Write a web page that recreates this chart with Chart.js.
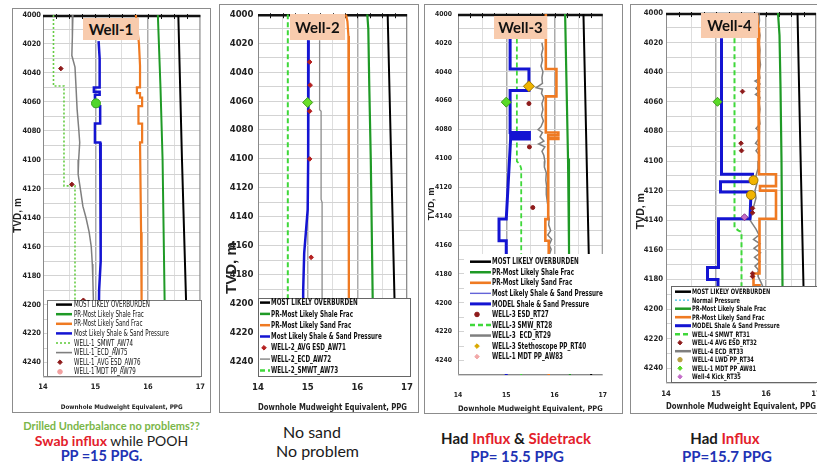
<!DOCTYPE html>
<html>
<head>
<meta charset="utf-8">
<script src="https://cdn.jsdelivr.net/npm/chart.js@4.4.1/dist/chart.umd.min.js"></script>
<style>
  html, body { margin: 0; padding: 0; background: #fff; width: 817px; height: 466px; overflow: hidden; position: relative; }
  .frame { position: absolute; border: 1px solid #8c8c8c; background: #fff; box-sizing: border-box; }
  canvas { position: absolute; z-index: 1; }
  .well { position: absolute; z-index: 2; background: #f8cbad; color: #111; text-align: center;
          font: bold 15px Lato, sans-serif; }
  .cap { position: absolute; z-index: 2; font-family: Lato, sans-serif; white-space: nowrap; line-height: 1; color: #1a1a1a; }
  .red { color: #e3202a; font-weight: bold; }
  .blue { color: #2132b4; font-weight: bold; }
</style>
</head>
<body>

<div class="well" style="left:83px;top:18px;width:56px;height:22px;line-height:22px;">Well-1</div>
<div class="well" style="left:290px;top:14px;width:55px;height:26px;line-height:26px;">Well-2</div>
<div class="well" style="left:494px;top:16px;width:53px;height:23px;line-height:23px;">Well-3</div>
<div class="well" style="left:701px;top:13px;width:57px;height:25px;line-height:25px;">Well-4</div>

<div class="cap" style="left:10px;top:420px;width:203px;text-align:center;font-size:11px;font-weight:bold;color:#7ab648;">Drilled Underbalance no problems??</div>
<div class="cap" style="left:10px;top:434px;width:203px;text-align:center;font-size:14px;"><span class="red">Swab influx</span> while POOH</div>
<div class="cap" style="left:10px;top:449px;width:183px;text-align:center;font-size:14.5px;"><span class="blue">PP =15 PPG.</span></div>

<div class="cap" style="left:262px;top:424px;width:100px;text-align:center;font-size:16px;">No sand</div>
<div class="cap" style="left:276px;top:443px;font-size:16px;">No problem</div>

<div class="cap" style="left:416px;top:431px;width:200px;text-align:center;font-size:15px;font-weight:bold;">Had <span class="red">Influx</span> &amp; <span class="red">Sidetrack</span></div>
<div class="cap" style="left:417px;top:449px;width:200px;text-align:center;font-size:15px;"><span class="blue">PP= 15.5 PPG</span></div>

<div class="cap" style="left:625px;top:431px;width:200px;text-align:center;font-size:15px;font-weight:bold;">Had <span class="red">Influx</span></div>
<div class="cap" style="left:627px;top:449px;width:200px;text-align:center;font-size:15px;"><span class="blue">PP=15.7 PPG</span></div>

<script>
// ---- data: [ppg, TVD m] ----
const ppgTicks = [14, 15, 16, 17];
const tvdRange = [4000, 4250];

// Well-1
const w1Overburden = [[16.58, 4000], [16.65, 4100], [16.73, 4200], [16.76, 4250]];
const w1ShaleFrac = [[16.19, 4000], [16.21, 4020], [16.24, 4050], [16.28, 4100], [16.30, 4150], [16.32, 4200], [16.33, 4250]];
const w1SandFrac = [[15.77, 4000], [15.80, 4010], [15.83, 4020], [15.85, 4035], [15.85, 4050], [15.79, 4050], [15.79, 4054],
  [15.85, 4054], [15.85, 4057], [15.89, 4057], [15.89, 4063], [15.82, 4063], [15.82, 4075], [15.89, 4075], [15.89, 4088],
  [15.85, 4088], [15.87, 4150], [15.88, 4200], [15.89, 4250]];
const w1Pressure = [[15.06, 4018], [15.08, 4030], [15.08, 4050], [14.97, 4050], [14.97, 4053], [15.08, 4053], [15.08, 4055],
  [14.99, 4055], [14.99, 4063], [15.09, 4063], [15.09, 4075], [14.99, 4075], [14.99, 4088], [15.09, 4088], [15.10, 4140],
  [15.10, 4170], [15.07, 4190], [15.05, 4250]];
const w1Smwt = [[14.20, 4000], [14.20, 4049], [14.40, 4049], [14.40, 4118], [14.61, 4118], [14.61, 4250]];
const w1Ecd = [[14.57, 4000], [14.56, 4015], [14.55, 4028], [14.61, 4036], [14.63, 4050], [14.65, 4065], [14.68, 4078],
  [14.70, 4088], [14.68, 4100], [14.67, 4110], [14.72, 4122], [14.76, 4132], [14.82, 4140], [14.88, 4150], [14.92, 4160],
  [14.94, 4172], [14.95, 4182], [14.96, 4196], [14.96, 4210]];
const w1Esd = [[14.34, 4037], [14.55, 4117], [14.77, 4197]];
const w1Mdt = [[15.01, 4061]];

// Well-2
const w2Overburden = [[16.61, 4000], [16.68, 4100], [16.75, 4200], [16.78, 4250]];
const w2ShaleFrac = [[16.20, 4000], [16.22, 4010], [16.24, 4050], [16.27, 4100], [16.29, 4150], [16.31, 4200], [16.32, 4250]];
const w2SandFrac = [[15.77, 4000], [15.80, 4005], [15.82, 4015], [15.83, 4100], [15.83, 4250]];
const w2Pressure = [[15.02, 4018], [15.01, 4100], [15.00, 4135], [14.97, 4148], [14.93, 4165], [14.91, 4190], [14.90, 4250]];
const w2Esd = [[15.04, 4033], [15.05, 4049], [15.04, 4067], [15.04, 4100], [15.07, 4168]];
const w2Ecd = [[15.24, 4018], [15.24, 4066], [15.27, 4067], [15.27, 4128], [15.29, 4130], [15.29, 4250]];
const w2Smwt = [[14.60, 4000], [14.60, 4250]];
const w2Mdt = [[15.00, 4061]];

// Well-3
const w3Overburden = [[16.60, 4000], [16.71, 4166], [16.76, 4250]];
const w3ShaleFrac = [[16.22, 4000], [16.25, 4050], [16.28, 4100], [16.30, 4160], [16.32, 4250]];
const w3SandFrac = [[15.82, 4000], [15.82, 4038], [16.04, 4038], [16.04, 4057], [15.82, 4057], [15.82, 4082], [16.08, 4082],
  [16.08, 4084], [15.87, 4084], [15.87, 4086], [16.08, 4086], [16.08, 4086.5], [15.87, 4086.5], [15.87, 4142], [15.81, 4142],
  [15.81, 4157], [15.88, 4157], [15.88, 4250]];
const w3Model = [[15.08, 4017], [15.08, 4038], [15.47, 4038], [15.47, 4053], [15.08, 4053], [15.08, 4082], [15.48, 4082],
  [15.48, 4084], [15.09, 4084], [15.09, 4086], [15.48, 4086], [15.48, 4086.5], [15.09, 4086.5], [15.00, 4142], [14.85, 4142],
  [14.85, 4157], [15.00, 4157], [15.00, 4250]];
const w3MostLikely = [];
const w3Esd = [[15.47, 4062], [15.48, 4092], [15.55, 4134]];
const w3Smw = [[15.22, 4017], [15.22, 4102], [15.28, 4104], [15.31, 4107], [15.31, 4250]];
const w3Ecd = [[15.74, 4020], [15.76, 4024], [15.73, 4028], [15.75, 4032], [15.72, 4036], [15.76, 4040], [15.74, 4044],
  [15.75, 4048], [15.62, 4051], [15.75, 4052], [15.73, 4055], [15.78, 4058], [15.74, 4062], [15.76, 4066], [15.73, 4070],
  [15.77, 4074], [15.72, 4078], [15.66, 4080], [15.75, 4082], [15.70, 4085], [15.78, 4088], [15.67, 4090], [15.80, 4092],
  [15.74, 4095], [15.78, 4098], [15.80, 4102], [15.79, 4106], [15.83, 4110], [15.82, 4115], [15.84, 4120], [15.83, 4125],
  [15.85, 4130], [15.87, 4134], [15.86, 4138], [15.89, 4142], [15.88, 4146], [15.92, 4150], [15.86, 4153], [15.94, 4156],
  [15.89, 4160], [15.93, 4163], [15.90, 4166]];
const w3Stethoscope = [[15.47, 4050]];
const w3Mdt = [[15.00, 4061]];

// Well-4
const w4Overburden = [[16.63, 4000], [16.68, 4080], [16.75, 4185], [16.78, 4250]];
const w4Normal = [];
const w4ShaleFrac = [[16.24, 4000], [16.27, 4015], [16.29, 4050], [16.31, 4100], [16.33, 4185], [16.34, 4250]];
const w4SandFrac = [[15.82, 4000], [15.84, 4010], [15.86, 4030], [15.86, 4109], [16.20, 4109], [16.20, 4117], [15.88, 4117],
  [15.88, 4120], [16.20, 4120], [16.20, 4139], [15.87, 4139], [15.87, 4176], [15.75, 4176], [15.75, 4184], [15.87, 4184],
  [15.87, 4250]];
const w4Model = [[15.11, 4017], [15.11, 4109], [15.73, 4109], [15.73, 4114], [15.09, 4114], [15.09, 4121], [15.70, 4121],
  [15.68, 4139], [15.05, 4139], [15.05, 4172], [14.83, 4172], [14.83, 4180], [15.04, 4180], [15.04, 4250]];
const w4Smwt = [[15.37, 4017], [15.37, 4145], [15.45, 4147], [15.51, 4148], [15.51, 4250]];
const w4Esd = [[15.53, 4053], [15.50, 4088], [15.51, 4093], [15.73, 4132], [15.73, 4135], [15.73, 4176], [15.73, 4178]];
const w4Ecd = [[15.86, 4000], [15.87, 4005], [15.85, 4010], [15.88, 4015], [15.86, 4020], [15.88, 4025], [15.87, 4030],
  [15.89, 4035], [15.86, 4040], [15.88, 4044], [15.78, 4046], [15.88, 4048], [15.80, 4051], [15.87, 4053], [15.79, 4055],
  [15.88, 4057], [15.86, 4060], [15.88, 4065], [15.86, 4070], [15.88, 4075], [15.80, 4078], [15.87, 4080], [15.86, 4085],
  [15.79, 4088], [15.87, 4090], [15.80, 4093], [15.87, 4096], [15.85, 4100], [15.84, 4105], [15.80, 4110], [15.82, 4115],
  [15.78, 4120], [15.80, 4125], [15.76, 4130], [15.72, 4135], [15.68, 4140], [15.74, 4143], [15.80, 4146], [15.86, 4150],
  [15.75, 4153], [15.88, 4156], [15.76, 4159], [15.89, 4162], [15.77, 4165], [15.88, 4168], [15.78, 4171], [15.86, 4174],
  [15.84, 4178], [15.90, 4182], [15.95, 4186], [15.93, 4190]];
const w4Lwd = [[15.75, 4113], [15.70, 4123]];
const w4Mdt = [[15.03, 4060]];
const w4Kick = [[15.57, 4138]];

// ---- fonts: the plots use a narrow sans; pick one if installed, otherwise squeeze Liberation Sans ----
const probe = document.createElement('canvas').getContext('2d');
function textWidth(font, s) { probe.font = font; return probe.measureText(s).width; }
const SAMPLE = 'Downhole Mudweight Equivalent, PPG 4000';
const narrowName = ['Liberation Sans Narrow', 'Noto Sans Condensed', 'DejaVu Sans Condensed']
  .find(n => textWidth(`bold 40px '${n}', monospace`, SAMPLE) !== textWidth('bold 40px monospace', SAMPLE)) || 'Liberation Sans';
const NARROW = `'${narrowName}', 'Liberation Sans', sans-serif`;
const FS = 0.82 * textWidth("bold 40px 'Liberation Sans'", SAMPLE) / textWidth(`bold 40px ${NARROW}`, SAMPLE);
const TS = Math.min(1, FS * 1.08);   // axis text: a bit taller than a pure width match
const SANS = "'Liberation Sans', Arial, sans-serif";

// ---- helpers ----
const BLACK = '#000', GREEN = '#1f9a26', ORANGE = '#ef7a22', BLUE = '#1414d2', GRAY = '#7f7f7f',
      LIME = '#3fd83a', DARKRED = '#8e1b1b';

function xy(arr) { return arr.map(p => ({ x: p[0], y: p[1] })); }

function line(label, pts, color, width, extra) {
  return Object.assign({
    label: label, data: xy(pts), showLine: true, borderColor: color, backgroundColor: color,
    borderWidth: width, pointRadius: 0, pointHoverRadius: 0, pointHitRadius: 0, order: 5
  }, extra || {});
}

function marks(label, pts, color, radius, extra) {
  return Object.assign({
    label: label, data: xy(pts), showLine: false, pointStyle: 'rectRot', pointRadius: radius,
    pointBackgroundColor: color, pointBorderColor: color, backgroundColor: color, borderColor: color,
    pointBorderWidth: 1, order: 1
  }, extra || {});
}

// y title is centred on the plot; trailing blanks push it down like in the picture
function shiftedTitle(text, size, down) {
  const sp = textWidth(`bold ${size}px ${SANS}`, '\u00a0');
  return text + '\u00a0'.repeat(Math.max(0, Math.round(2 * down / sp)));
}

// grey plot border + heavy black top edge with little ticks
const plotFrame = {
  id: 'plotFrame',
  beforeDatasetsDraw(chart) {
    const ctx = chart.ctx, a = chart.chartArea, x = chart.scales.x;
    ctx.save();
    ctx.strokeStyle = '#8a8a8a';
    ctx.lineWidth = 1;
    ctx.beginPath();
    ctx.moveTo(a.left + 0.5, a.top);
    ctx.lineTo(a.left + 0.5, a.bottom - 0.5);
    ctx.lineTo(a.right - 0.5, a.bottom - 0.5);
    ctx.lineTo(a.right - 0.5, a.top);
    ctx.stroke();
    ctx.strokeStyle = '#111';
    ctx.lineWidth = 2.5;
    ctx.beginPath();
    ctx.moveTo(a.left, a.top + 1);
    ctx.lineTo(a.right, a.top + 1);
    ctx.stroke();
    ctx.lineWidth = 1;
    ctx.beginPath();
    for (let v = 14.25; v < 17; v += 0.25) {
      const px = Math.round(x.getPixelForValue(v)) + 0.5;
      ctx.moveTo(px, a.top - 1);
      ctx.lineTo(px, a.top + 4);
    }
    ctx.stroke();
    ctx.restore();
  }
};

// legend drawn as a box inside the plot area
const boxLegend = {
  id: 'boxLegend',
  afterDatasetsDraw(chart, args, o) {
    if (!o || !o.box) return;
    const ctx = chart.ctx;
    const ox = o.origin[0], oy = o.origin[1];
    const bx = o.box[0] - ox, by = o.box[1] - oy, bw = o.box[2], bh = o.box[3];
    ctx.save();
    ctx.fillStyle = '#fff';
    ctx.fillRect(bx, by, bw, bh);
    if (o.border) {
      ctx.strokeStyle = o.border;
      ctx.lineWidth = 1;
      ctx.strokeRect(bx + 0.5, by + 0.5, bw - 1, bh - 1);
    }
    ctx.font = `${o.weight} ${o.size}px ${NARROW}`;
    ctx.textBaseline = 'middle';
    let row = 0;
    chart.data.datasets.forEach(ds => {
      if (ds.noLegend) return;
      const y = by + o.firstRow + row * o.rowH;
      const x0 = o.sampleX - ox, x1 = x0 + o.sampleW;
      ctx.save();
      if (ds.showLine) {
        ctx.strokeStyle = ds.legendColor || ds.borderColor;
        ctx.lineWidth = ds.legendWidth || Math.max(ds.borderWidth, 2.5);
        ctx.setLineDash(ds.borderDash || []);
        ctx.beginPath();
        ctx.moveTo(x0, y);
        ctx.lineTo(x1, y);
        ctx.stroke();
      } else {
        const c = ds.legendColor || ds.pointBackgroundColor;
        ctx.fillStyle = c;
        ctx.strokeStyle = c;
        ctx.lineWidth = 1;
        Chart.helpers.drawPoint(ctx, { pointStyle: ds.pointStyle, radius: o.markR, rotation: 0, borderWidth: 1 },
          o.markX - ox, y);
      }
      ctx.restore();
      ctx.save();
      ctx.fillStyle = '#111';
      ctx.translate(o.textX - ox, y + 0.5);
      ctx.scale(FS, 1);
      ctx.fillText(ds.label, 0, 0);
      ctx.restore();
      row++;
    });
    ctx.restore();
  }
};

function drawWell(L, datasets) {
  const fr = L.frame, ar = L.area;
  const W = fr[2] - fr[0], H = fr[3] - fr[1];

  const box = document.createElement('div');
  box.className = 'frame';
  box.style.cssText = `left:${fr[0]}px;top:${fr[1]}px;width:${W}px;height:${H}px;`;
  const cv = document.createElement('canvas');
  cv.width = W;
  cv.height = H;
  cv.style.cssText = `left:${fr[0]}px;top:${fr[1]}px;width:${W}px;height:${H}px;`;
  document.body.appendChild(box);
  document.body.appendChild(cv);

  const tickFont = { family: NARROW, size: L.tick * TS, weight: 'bold' };

  new Chart(cv, {
    type: 'scatter',
    data: { datasets: datasets },
    options: {
      responsive: false,
      animation: false,
      devicePixelRatio: 1,
      events: [],
      layout: { padding: { top: ar[1] - fr[1], right: fr[2] - ar[2], left: 0, bottom: 0 } },
      plugins: {
        legend: { display: false },
        tooltip: { enabled: false },
        boxLegend: Object.assign({ origin: [fr[0], fr[1]] }, L.legend)
      },
      scales: {
        x: {
          type: 'linear',
          position: 'bottom',
          min: ppgTicks[0],
          max: ppgTicks[ppgTicks.length - 1],
          ticks: {
            stepSize: 0.5, autoSkip: false, maxRotation: 0, padding: L.xPad,
            color: '#222', font: tickFont,
            callback: v => ppgTicks.includes(v) ? String(v) : ''
          },
          grid: {
            drawTicks: false,
            color: c => (c.tick && (c.tick.value === 15 || c.tick.value === 16)) ? '#ababab' : '#dedede',
            lineWidth: c => (c.tick && (c.tick.value === 15 || c.tick.value === 16)) ? 1.5 : 1
          },
          border: { display: false },
          title: {
            display: true, text: 'Downhole Mudweight Equivalent, PPG', color: '#222',
            font: { family: NARROW, size: L.xTitle * TS, weight: 'bold' }, padding: { top: 0, bottom: L.xTitlePad }
          },
          afterFit: s => { s.height = fr[3] - ar[3]; }
        },
        y: {
          type: 'linear',
          reverse: true,
          min: tvdRange[0],
          max: tvdRange[1],
          ticks: {
            stepSize: 10, autoSkip: false, includeBounds: false, padding: L.yPad,
            color: '#222', font: tickFont,
            callback: v => (v % 20 === 0) ? String(v) : ''
          },
          grid: { drawTicks: false, color: '#d3d3d3' },
          border: { display: false },
          title: {
            display: true, text: shiftedTitle('TVD, m', L.yTitle, L.yTitleDown), color: '#222',
            font: { family: SANS, size: L.yTitle, weight: 'bold' },
            padding: { top: L.yTitlePad, bottom: 0 }
          },
          afterFit: s => { s.width = ar[0] - fr[0]; }
        }
      }
    },
    plugins: [plotFrame, boxLegend]
  });
}

// ---- four wells ----
drawWell({
  frame: [12, 8, 211, 413], area: [43, 15, 205, 377],
  tick: 9, xPad: 6, yPad: 2, xTitle: 7.6, xTitlePad: 2, yTitle: 10, yTitlePad: 0, yTitleDown: 19,
  legend: { box: [47, 300, 155, 77], border: '#7a7a7a', weight: 'normal', size: 8, firstRow: 4.6, rowH: 9.6,
            sampleX: 56, sampleW: 16, markX: 60, markR: 2.3, textX: 74 }
}, [
  line('MOST LIKELY OVERBURDEN', w1Overburden, BLACK, 2),
  line('PR-Most Likely Shale Frac', w1ShaleFrac, GREEN, 2),
  line('PR-Most Likely Sand Frac', w1SandFrac, ORANGE, 2.2),
  line('Most Likely Shale & Sand Pressure', w1Pressure, BLUE, 2.5),
  line('WELL-1_SMWT_AW74', w1Smwt, '#66cc44', 1.6, { borderDash: [2, 2], legendWidth: 1.6 }),
  line('WELL-1_ECD_AW75', w1Ecd, GRAY, 1.5, { legendWidth: 1.6 }),
  marks('WELL-1_AVG ESD_AW76', w1Esd, DARKRED, 2.3),
  marks('WELL-1 MDT PP_AW79', w1Mdt, '#4fd62a', 4.5, { pointStyle: 'circle', pointBorderColor: '#3aa81e', legendColor: '#f2a0a0' })
]);

drawWell({
  frame: [219, 4, 419, 413], area: [258, 13, 409, 376],
  tick: 11.5, xPad: 6, yPad: 4.5, xTitle: 10.5, xTitlePad: 0.5, yTitle: 15, yTitlePad: 3.5, yTitleDown: 72,
  legend: { box: [258, 298, 153, 79], border: '#666', weight: 'bold', size: 8.2, firstRow: 4.6, rowH: 11.3,
            sampleX: 260, sampleW: 10, markX: 264, markR: 2.3, textX: 271 }
}, [
  line('MOST LIKELY OVERBURDEN', w2Overburden, BLACK, 2),
  line('PR-Most Likely Shale Frac', w2ShaleFrac, GREEN, 2.2),
  line('PR-Most Likely Sand Frac', w2SandFrac, ORANGE, 2.2),
  line('Most Likely Shale & Sand Pressure', w2Pressure, BLUE, 2.5),
  marks('WELL-2_AVG ESD_AW71', w2Esd, '#b52020', 2.3),
  line('WELL-2_ECD_AW72', w2Ecd, '#8c8c8c', 1.3, { legendWidth: 1.5 }),
  line('WELL-2_SMWT_AW73', w2Smwt, LIME, 2, { borderDash: [5, 3] }),
  marks('MDT', w2Mdt, '#6adf2a', 5, { pointBorderColor: '#3c9a18', noLegend: true, order: 0 })
]);

drawWell({
  frame: [424, 4, 623, 414], area: [458, 13, 616, 375],
  tick: 8.2, xPad: 16, yPad: 6, xTitle: 9.3, xTitlePad: 0, yTitle: 9.5, yTitlePad: 2, yTitleDown: 9,
  legend: { box: [464, 254, 150, 120], border: null, weight: 'bold', size: 8.2, firstRow: 7.7, rowH: 10.55,
            sampleX: 470, sampleW: 21, markX: 477, markR: 2.3, textX: 492 }
}, [
  line('MOST LIKELY OVERBURDEN', w3Overburden, BLACK, 2),
  line('PR-Most Likely Shale Frac', w3ShaleFrac, GREEN, 2.2),
  line('PR-Most Likely Sand Frac', w3SandFrac, ORANGE, 2.6),
  line('Most Likely Shale & Sand Pressure', w3MostLikely, '#6464d8', 1.2, { legendWidth: 1.4 }),
  line('MODEL Shale & Sand Pressure', w3Model, BLUE, 3),
  marks('WELL-3 ESD_RT27', w3Esd, DARKRED, 2, { pointStyle: 'circle' }),
  line('WELL-3 SMW_RT28', w3Smw, LIME, 1.8, { borderDash: [5, 3] }),
  line('WELL-3  ECD_RT29', w3Ecd, GRAY, 1.5),
  marks('WELL-3 Stethoscope PP_RT40', w3Stethoscope, '#f0b400', 5.5, { pointBorderColor: '#9a7400', legendColor: '#d9a800' }),
  marks('WELL-1 MDT PP_AW83', w3Mdt, '#5ada28', 5, { pointBorderColor: '#3c9a18', legendColor: '#f2a8a8' })
]);

drawWell({
  frame: [630, 4, 830, 414], area: [666, 13, 816, 383],
  tick: 9.3, xPad: 6, yPad: 3, xTitle: 10, xTitlePad: 2, yTitle: 10.5, yTitlePad: 5, yTitleDown: 13,
  legend: { box: [671, 286, 160, 97], border: '#666', weight: 'bold', size: 7.4, firstRow: 5.7, rowH: 8.5,
            sampleX: 675, sampleW: 16, markX: 680, markR: 2.2, textX: 692 }
}, [
  line('MOST LIKELY OVERBURDEN', w4Overburden, BLACK, 2),
  line('Normal Pressure', w4Normal, '#39bfe0', 1, { borderDash: [2, 2], legendWidth: 1.2 }),
  line('PR-Most Likely Shale Frac', w4ShaleFrac, GREEN, 2.2),
  line('PR-Most Likely Sand Frac', w4SandFrac, ORANGE, 2.6),
  line('MODEL Shale & Sand Pressure', w4Model, BLUE, 3),
  line('WELL-4 SMWT_RT31', w4Smwt, LIME, 2, { borderDash: [5, 3] }),
  marks('WELL-4 AVG ESD_RT32', w4Esd, DARKRED, 2.3),
  line('WELL-4 ECD_RT33', w4Ecd, GRAY, 1.5, { order: 6 }),
  marks('WELL-4 LWD PP_RT34', w4Lwd, '#f2b400', 4.5, { pointStyle: 'circle', pointBorderColor: '#a07a00', legendColor: '#b8a040' }),
  marks('WELL-1 MDT PP_AW81', w4Mdt, '#5ada28', 4.5, { pointBorderColor: '#3c9a18' }),
  marks('Well-4 Kick_RT35', w4Kick, '#c46cc8', 3.5, { pointBorderColor: '#8a3a90' })
]);
</script>
</body>
</html>
